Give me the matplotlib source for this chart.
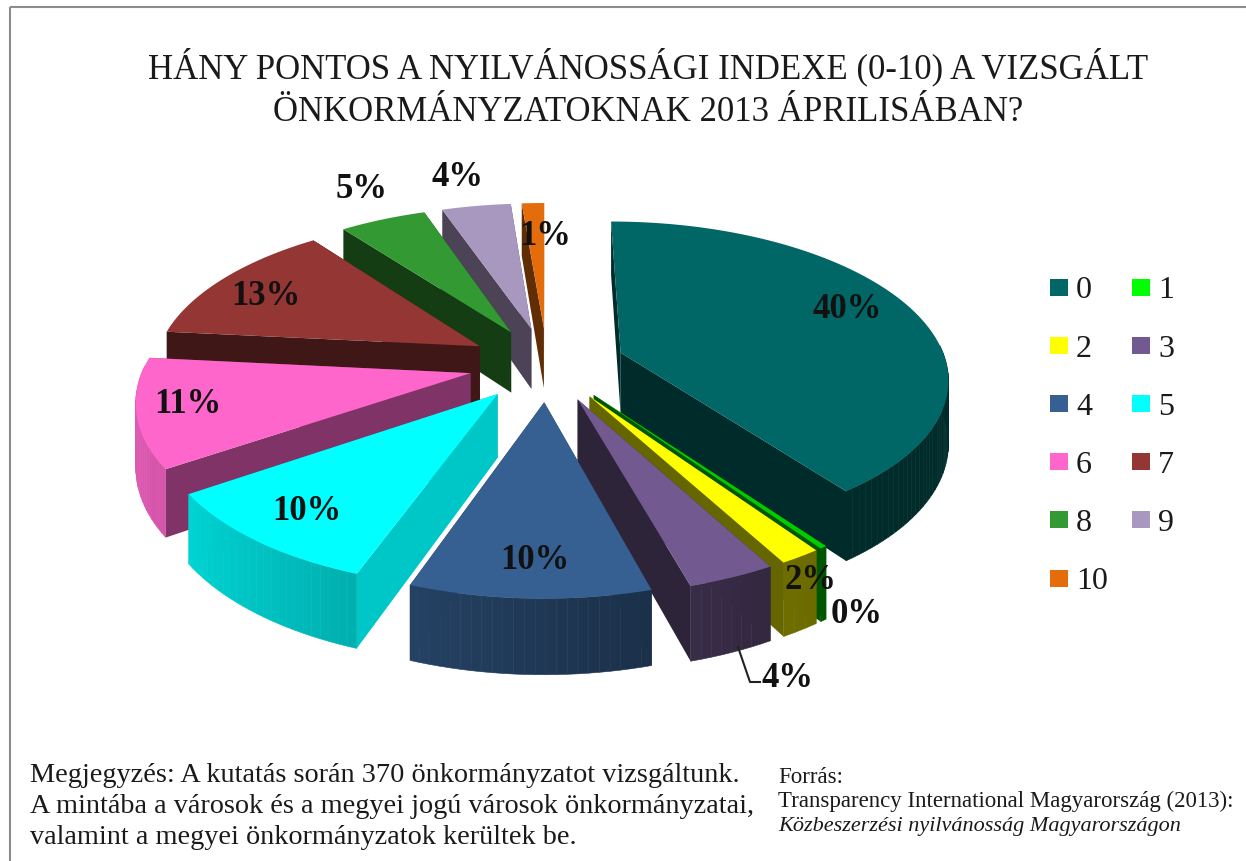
import numpy as np
import matplotlib
matplotlib.use('Agg')
import matplotlib.pyplot as plt
from matplotlib.patches import Polygon, Rectangle

plt.rcParams['font.family'] = ['Liberation Serif', 'DejaVu Serif']

categories = ['0', '1', '2', '3', '4', '5', '6', '7', '8', '9', '10']
values = [39.8, 0.3, 1.7, 3.6, 9.8, 10, 11, 13, 5, 4, 1.3]
labels = ['40%', '0%', '2%', '4%', '10%', '10%', '11%', '13%', '5%', '4%', '1%']
colors = ['#006666', '#00cc00', '#ffff00', '#725a90', '#366092', '#00ffff',
          '#ff66cc', '#943634', '#339933', '#a898c0', '#e46c0a']
title_lines = ['HÁNY PONTOS A NYILVÁNOSSÁGI INDEXE (0-10) A VIZSGÁLT',
               'ÖNKORMÁNYZATOKNAK 2013 ÁPRILISÁBAN?']
note_lines = ['Megjegyzés: A kutatás során 370 önkormányzatot vizsgáltunk.',
              'A mintába a városok és a megyei jogú városok önkormányzatai,',
              'valamint a megyei önkormányzatok kerültek be.']

cx, cy = 547, 365
rx, ry = 326, 154
persp = 0.15
explode = 0.24
depth = 62
start = np.radians(0)
# how dark the straight cut faces are, per slice
cut_shade = [0.42, 0.42, 0.4, 0.4, 0.42, 0.78, 0.5, 0.42, 0.4, 0.45, 0.42]
label_pos = [(847, 310), (857, 615), (810, 581), (788, 679), (535, 561), (307, 512),
             (188, 405), (266, 297), (362, 189), (458, 178), (545, 237)]


def project(x, y, z=0.0):
    s = 1 / (1 + persp * y)
    return cx + rx * x * s, cy - ry * y * s + depth * z * s


def shade(col, f):
    return tuple(min(1, c * f) for c in matplotlib.colors.to_rgb(col))


fig = plt.figure(figsize=(12.46, 8.62), dpi=100)
ax = fig.add_axes([0, 0, 1, 1])
ax.set_xlim(0, 1246)
ax.set_ylim(862, 0)
ax.axis('off')
ax.add_patch(Rectangle((9.5, 8), 1260, 900, fill=False, ec='#8c8c8c', lw=1.5))

fracs = np.array(values) / sum(values)
edges = start + 2 * np.pi * np.concatenate([[0], np.cumsum(fracs)])

slices = []
for i, col in enumerate(colors):
    a0, a1 = edges[i], edges[i + 1]
    mid = (a0 + a1) / 2
    slices.append((i, a0, a1, explode * np.sin(mid), explode * np.cos(mid), col))

# back slices first
for i, a0, a1, ox, oy, col in sorted(slices, key=lambda s: -s[4]):
    t = np.linspace(a0, a1, max(int((a1 - a0) * 40), 2))
    xs = ox + np.sin(t)
    ys = oy + np.cos(t)
    # the two cut faces, the top covers whichever one looks away
    for a in sorted([a0, a1], key=lambda v: -np.cos(v)):
        ex, ey = ox + np.sin(a), oy + np.cos(a)
        quad = [project(ox, oy), project(ex, ey), project(ex, ey, 1), project(ox, oy, 1)]
        ax.add_patch(Polygon(quad, fc=shade(col, cut_shade[i]), ec='none'))
    # outer wall, one quad per arc step
    for j in range(len(t) - 1):
        m = (t[j] + t[j + 1]) / 2
        if np.cos(m) > 0.05:
            continue
        light = max(0.42, 0.58 - 0.3 * np.sin(m))
        quad = [project(xs[j], ys[j]), project(xs[j + 1], ys[j + 1]),
                project(xs[j + 1], ys[j + 1], 1), project(xs[j], ys[j], 1)]
        c = shade(col, light)
        ax.add_patch(Polygon(quad, fc=c, ec=c, lw=0.4))
    top = [project(ox, oy)] + [project(x, y) for x, y in zip(xs, ys)]
    ax.add_patch(Polygon(top, fc=col, ec='none'))

for i, (lx, ly) in enumerate(label_pos):
    ax.text(lx, ly, labels[i], fontsize=25, fontweight='bold', ha='center', va='center',
            color='#111111', zorder=5)
# leader line of the 4% label
ax.plot([738, 750, 760], [648, 683, 683], color='#222222', lw=1.5, zorder=5)

for k, line in enumerate(title_lines):
    ax.text(648, 66.5 + k * 46, line, fontsize=25, ha='center', va='center', color='#1a1a1a')

# legend, two columns
for k, (name, col) in enumerate(zip(categories, colors)):
    row, column = k // 2, k % 2
    lx = 1050 + column * 82
    ly = 288 + row * 58.2
    ax.add_patch(Rectangle((lx, ly - 8.5), 18, 17, fc='#00ff00' if k == 1 else col, ec='none'))
    ax.text(lx + 26, ly + 3, name, fontsize=23, ha='left', va='center', color='#1a1a1a')

for k, line in enumerate(note_lines):
    ax.text(30, 776 + k * 31, line, fontsize=20.3, ha='left', va='center', color='#1a1a1a')

ax.text(778, 777.5, 'Forrás:', fontsize=16.5, ha='left', va='center', color='#1a1a1a')
ax.text(778, 801.5, 'Transparency International Magyarország (2013):', fontsize=16.5,
        ha='left', va='center', color='#1a1a1a')
ax.text(778, 826.5, 'Közbeszerzési nyilvánosság Magyarországon', fontsize=16, style='italic',
        ha='left', va='center', color='#1a1a1a')

fig.savefig('out.png', dpi=100)
